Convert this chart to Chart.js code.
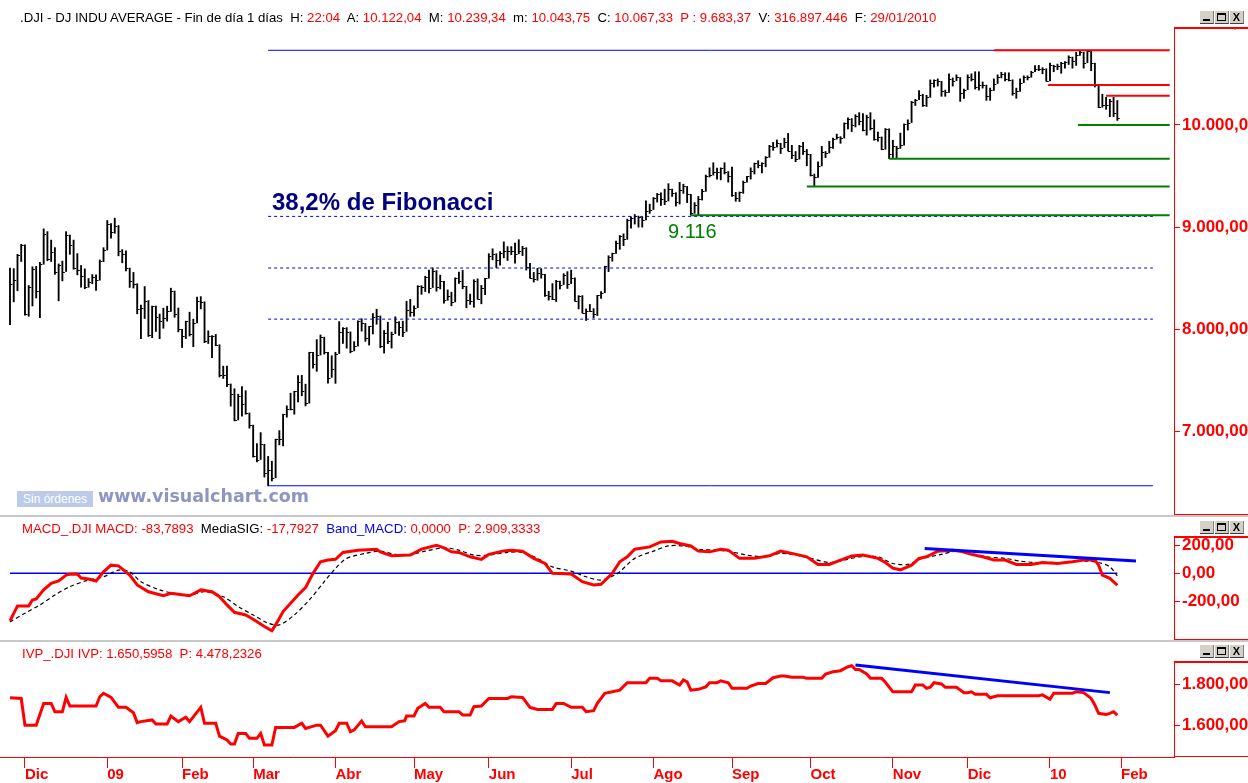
<!DOCTYPE html>
<html lang="es">
<head>
<meta charset="UTF-8">
<title>.DJI - Fibonacci</title>
<script src="https://cdn.jsdelivr.net/npm/chart.js"></script>
<style>
  body { margin: 0; background: #fff; }
  #wrap { position: relative; width: 1248px; height: 783px; overflow: hidden; font-family: Arial, "Liberation Sans", sans-serif; }
  canvas { position: absolute; left: 0; }
  .hdr { position: absolute; left: 20px; font-size: 13.2px; line-height: 15px; white-space: pre; color: #000; }
  .r { color: #ff0000; }
  .b { color: #0000ff; }
  .sep { position: absolute; left: 0; width: 1248px; height: 2px; background: #c8c8c8; }
  .btns { position: absolute; left: 1200px; display: flex; gap: 1px; }
  .bt { width: 14px; height: 13px; background: #d4d0c8; border-bottom: 1px solid #404040; border-right: 1px solid #808080; box-sizing: border-box; position: relative; font: bold 11px Arial; text-align: center; line-height: 12px; color: #000; }
  .mn { position: absolute; left: 3px; bottom: 2px; width: 7px; height: 2px; background: #000; }
  .mx { position: absolute; left: 2px; top: 2px; width: 9px; height: 8px; border: 1px solid #000; border-top-width: 2px; box-sizing: border-box; }
  .txt { position: absolute; white-space: pre; }
</style>
</head>
<body>
<div id="wrap">
  <canvas id="priceChart" style="top:0px"></canvas>
  <canvas id="macdChart" style="top:517px"></canvas>
  <canvas id="ivpChart" style="top:642px"></canvas>

  <div class="hdr" style="top:10px">.DJI - DJ INDU AVERAGE - Fin de día 1 días  H: <span class="r">22:04</span>  A: <span class="r">10.122,04</span>  M: <span class="r">10.239,34</span>  m: <span class="r">10.043,75</span>  C: <span class="r">10.067,33</span>  <span class="r">P : 9.683,37</span>  V: <span class="r">316.897.446</span>  F: <span class="r">29/01/2010</span></div>
  <div class="hdr" style="top:521px; left:22px"><span class="r">MACD_.DJI MACD: -83,7893</span>  MediaSIG: <span class="r">-17,7927</span>  <span class="b">Band_MACD:</span> <span class="r">0,0000</span>  <span class="r">P: 2.909,3333</span></div>
  <div class="hdr" style="top:646px; left:22px"><span class="r">IVP_.DJI IVP: 1.650,5958  P: 4.478,2326</span></div>

  <div class="btns" style="top:11px"><span class="bt"><i class="mn"></i></span><span class="bt"><i class="mx"></i></span><span class="bt">X</span></div>
  <div class="btns" style="top:521px"><span class="bt"><i class="mn"></i></span><span class="bt"><i class="mx"></i></span><span class="bt">X</span></div>
  <div class="btns" style="top:645px"><span class="bt"><i class="mn"></i></span><span class="bt"><i class="mx"></i></span><span class="bt">X</span></div>

  <div class="sep" style="top:515px"></div>
  <div class="sep" style="top:640px"></div>

  <div class="txt" style="left:272px; top:188px; font: bold 24px Arial; color:#000080">38,2% de Fibonacci</div>
  <div class="txt" style="left:668px; top:220px; font: 20px Arial; color:#008000">9.116</div>
  <div class="txt" style="left:17px; top:491px; width:76px; height:16px; background:#bccbea; color:#fff; font: 12px Arial; line-height:16px; text-align:center">Sin órdenes</div>
  <div class="txt" style="left:98px; top:486px; font: bold 17.5px 'DejaVu Sans', Verdana, sans-serif; color:#8e95c0">www.visualchart.com</div>
</div>

<script>
// ---- price data: DJ INDU AVERAGE daily bars, 24/11/2008 .. 29/01/2010 (index = trading day)
const highs = [
  8599,8594,8734,8832,
  8828,8429,8612,8617,8656,8983,8956,8873,8800,8640,8668,8956,8923,8873,8741,8625,8592,8497,8536,8534,8679,8799,
  9065,9034,9088,9016,8780,8767,8600,8557,8447,8237,8419,8282,8228,8228,8150,8207,8227,8403,8375,8209,
  8001,8080,8168,8100,8315,8320,8270,7986,7939,7950,7850,7640,7640,7466,7419,7366,7440,7400,7182,
  7063,6882,6990,6876,6757,6710,6926,7009,7170,7252,7376,7395,7549,7550,7464,7776,7776,7900,7945,7924,7776,7742,
  7776,8076,8017,8017,7975,7880,8084,8104,8058,8030,8155,8197,8131,7989,8070,7973,8123,8076,8080,8275,8293,
  8230,8427,8427,8520,8580,8600,8575,8530,8469,8386,8363,8504,8560,8578,8422,8345,8486,8494,8430,8500,
  8740,8788,8740,8761,8856,8810,8810,8843,8877,8812,8799,8645,8557,8597,8594,8539,8372,8448,8480,8472,8545,8565,
  8580,8504,8330,8330,8200,8244,8203,8333,8370,8617,8720,8746,8863,8918,8934,9079,9100,9123,9108,9097,9258,9225,
  9290,9330,9336,9372,9425,9372,9337,9438,9420,9398,9321,9240,9300,9370,9510,9580,9630,9577,9580,9630,9544,
  9588,9340,9344,9451,9497,9580,9627,9650,9630,9690,9800,9829,9853,9820,9870,9917,9800,9740,9800,9830,9760,
  9712,9520,9640,9790,9740,9840,9871,9910,9885,10020,10070,10062,10100,10120,10110,10095,10120,10050,9930,9882,9965,9962,
  9850,9790,9920,10010,10050,10230,10250,10335,10300,10290,10440,10440,10450,10426,10340,10500,10460,10490,10464,10350,
  10490,10500,10520,10520,10420,10390,10360,10450,10490,10515,10510,10510,10441,10360,10450,10480,10480,10525,10580,10583,10560,10550,
  10604,10584,10595,10612,10619,10676,10664,10709,10723,10711,10730,10726,10604,10390,10300,10270,10250,10270,10239
];
const lows = [
  8046,8269,8377,8664,
  8140,8128,8229,8307,8114,8637,8671,8664,8538,8279,8474,8566,8734,8588,8533,8412,8397,8412,8446,8380,8481,8662,
  8776,8893,8940,8719,8651,8572,8410,8404,8152,7909,8106,7930,7919,7980,7909,8011,8080,8175,8118,7975,
  7822,7910,7935,7830,8062,8200,7870,7862,7724,7840,7534,7520,7440,7249,7105,7114,7150,7170,7033,
  6750,6704,6727,6555,6470,6517,6548,6870,6860,7141,7212,7170,7290,7350,7251,7278,7620,7590,7749,7758,7473,7530,
  7472,7763,7863,7816,7770,7789,7837,7983,7883,7846,7955,8050,7820,7768,7860,7817,7957,7940,7929,7980,8127,
  8128,8212,8343,8370,8356,8409,8373,8395,8256,8284,8230,8268,8449,8397,8211,8244,8216,8295,8250,8340,
  8500,8680,8604,8627,8700,8674,8730,8647,8739,8722,8580,8500,8463,8480,8500,8322,8286,8290,8272,8395,8438,8400,
  8447,8276,8200,8160,8087,8175,8112,8135,8303,8359,8565,8667,8743,8783,8819,8880,8991,9030,9000,9000,9070,9134,
  9172,9245,9212,9220,9256,9300,9206,9226,9330,9240,9116,9135,9117,9265,9350,9490,9509,9470,9462,9520,9440,
  9300,9253,9250,9330,9441,9470,9520,9580,9530,9590,9683,9752,9783,9720,9778,9745,9670,9640,9665,9710,9600,
  9500,9400,9487,9599,9680,9725,9770,9860,9820,9871,9960,9935,9980,10000,9940,9900,9950,9850,9840,9757,9762,9670,
  9680,9680,9770,9802,9950,10023,10190,10247,10180,10180,10270,10370,10380,10280,10280,10318,10380,10433,10230,10260,
  10345,10430,10350,10340,10360,10240,10240,10337,10405,10460,10430,10430,10290,10260,10328,10414,10440,10466,10520,10530,10500,10428,
  10430,10520,10540,10505,10554,10591,10555,10582,10680,10555,10608,10530,10371,10169,10173,10153,10080,10080,10044
];
const closes = [
  8443,8479,8727,8829,
  8149,8419,8591,8376,8635,8934,8691,8761,8565,8629,8564,8924,8824,8604,8579,8519,8419,8468,8515,8483,8668,8776,
  9034,8952,9015,8769,8742,8599,8474,8448,8200,8212,8281,7949,8228,8123,8077,8116,8175,8375,8149,8001,
  7936,8078,7957,8063,8280,8270,7888,7939,7932,7850,7552,7555,7466,7366,7115,7351,7270,7182,7063,
  6763,6726,6876,6594,6627,6547,6926,6930,7170,7224,7217,7395,7486,7400,7278,7776,7660,7749,7924,7776,7522,7609,
  7761,7978,8017,7975,7789,7837,8083,8058,7920,8029,8125,8131,7841,7969,7886,7957,8076,8025,7975,8185,8168,
  8212,8427,8410,8512,8409,8575,8419,8469,8284,8331,8268,8504,8474,8422,8292,8277,8473,8300,8403,8500,
  8721,8740,8675,8750,8764,8764,8763,8739,8770,8799,8612,8504,8497,8555,8539,8339,8323,8299,8472,8438,8529,8447,
  8504,8280,8324,8163,8178,8183,8146,8332,8359,8616,8711,8743,8848,8916,8881,9069,9093,9108,9097,9070,9154,9172,
  9286,9320,9280,9256,9370,9337,9241,9362,9398,9321,9135,9217,9279,9350,9505,9509,9539,9543,9580,9544,9496,
  9310,9281,9344,9441,9497,9547,9627,9605,9626,9683,9791,9783,9820,9778,9829,9748,9707,9665,9789,9742,9712,
  9509,9487,9599,9731,9725,9786,9864,9885,9871,10015,10062,9995,10092,10041,9949,10081,9972,9867,9882,9762,9962,9712,
  9789,9771,9802,10005,10023,10227,10247,10291,10197,10270,10406,10437,10426,10332,10318,10450,10433,10464,10310,10345,
  10471,10453,10366,10388,10390,10286,10337,10405,10471,10501,10452,10441,10308,10328,10414,10464,10466,10520,10547,10545,10548,10428,
  10584,10572,10574,10607,10619,10664,10628,10681,10711,10610,10726,10604,10390,10173,10196,10194,10236,10120,10067
];

// month labels on the time axis (index of first session of each month)
const monthTicks  = [4, 26, 46, 65, 87, 108, 128, 150, 172, 193, 214, 236, 256, 278, 297];
const monthLabels = ['Dic','09','Feb','Mar','Abr','May','Jun','Jul','Ago','Sep','Oct','Nov','Dic','10','Feb'];

// drawn levels on the price panel
const rangeLevels   = [10730, 6470];          // top / bottom of the swing (blue)
const fibLevels     = [9105, 8600, 8100];     // 38,2% 50% 61,8% (blue dashed)
const fibStart = 69, fibEnd = 305.5;
const resistLevels  = [10730, 10390, 10285];  // red
const resistStart   = [263, 277.5, 293];
const supportLevels = [10000, 9668, 9398, 9116]; // green
const supportStart  = [285.5, 235, 213, 182];
const levelEnd = 310;

// MACD panel
const macdX = [0,2,5,6,7,9,11,13,15,16,18,19,21,23,25,27,29,32,34,37,41,43,45,48,51,54,56,58,60,63,65,68,70,71,73,77,79,81,83,85,87,89,93,98,99,102,107,110,114,116,118,120,123,126,128,132,134,137,140,143,145,150,153,156,158,161,163,165,167,171,174,177,179,182,184,187,190,192,195,199,203,206,209,213,216,219,222,225,228,232,234,236,238,241,243,245,248,252,254,257,260,263,266,269,273,276,280,284,287,290,291,292,294,296];
const macdY = [-336,-230,-230,-188,-181,-117,-70,-54,-12,-7,-5,-33,-40,-54,11,58,53,-12,-82,-130,-158,-141,-148,-158,-117,-130,-165,-223,-275,-294,-324,-376,-406,-364,-270,-153,-101,0,82,94,99,148,164,171,152,124,129,171,199,180,152,148,117,99,134,159,164,157,106,70,0,-5,-59,-82,-77,0,82,117,171,187,222,227,211,194,157,152,171,164,106,106,124,157,141,117,63,63,94,122,129,106,77,37,25,58,106,117,157,164,157,134,117,94,94,63,63,77,70,82,94,94,58,-12,-35,-84];
const sigX = [0,4,8,12,16,21,25,29,32,35,40,44,48,52,57,61,65,69,72,76,80,84,87,90,95,99,103,107,111,116,120,124,128,133,137,141,145,150,154,158,162,163,167,172,176,180,184,189,193,197,202,206,210,214,219,223,227,232,236,240,244,249,253,257,261,266,270,274,279,283,287,291,294,296];
const sigY = [-343,-282,-223,-153,-94,-47,-24,23,11,-59,-117,-141,-153,-130,-165,-235,-294,-352,-364,-294,-188,-59,35,106,141,157,134,134,157,180,164,129,129,148,148,106,46,16,-24,-47,-7,11,106,157,194,194,171,164,152,129,117,141,129,106,77,94,117,117,70,63,106,134,157,141,117,106,87,77,77,77,87,77,46,-18];
const bandX = [0, 296];
const bandY = [0, 0];
const macdTrendX = [244.5, 301];
const macdTrendY = [176, 87];

// IVP panel
const ivpX = [0,3,4,7,9,11,12,14,15,16,23,24,25,27,29,31,33,34,35,38,39,42,43,45,47,48,51,52,55,56,58,59,60,61,63,64,66,67,68,70,71,76,78,79,82,83,85,87,88,90,91,92,94,95,102,104,105.5,106,108,109,111,112,115,116,120,121,123,124,126,128,133,134,137,139,141,145,146,148,150,153,154,156,157,159,161,163,165,170,171,173,174,177,179,180,181,182,184,186,187,189,190,192,193,197,198,200,202,204,206,207,209,212,213,217,218,220,222,224,225,226,227,229,230,233,234,236,241,242,244,245,246,247,249,250,253,255,256,257,258,261,262,263,264,275,276,278,279,284,285,287,289,290,291,293,294,295,296];
const ivpY = [1735,1732,1603,1603,1708,1708,1668,1668,1737,1695,1695,1740,1757,1737,1689,1689,1663,1615,1620,1628,1608,1608,1647,1620,1641,1620,1689,1612,1612,1550,1531,1512,1512,1563,1563,1539,1539,1563,1507,1507,1592,1592,1612,1587,1603,1603,1550,1576,1612,1612,1571,1580,1623,1595,1595,1620,1624,1647,1647,1684,1708,1689,1689,1668,1668,1652,1652,1692,1695,1732,1732,1740,1737,1689,1679,1679,1708,1708,1689,1689,1668,1673,1708,1757,1764,1772,1808,1808,1829,1829,1817,1817,1797,1821,1812,1772,1776,1788,1808,1808,1817,1808,1781,1781,1792,1804,1804,1832,1840,1840,1834,1834,1829,1829,1850,1861,1866,1885,1890,1872,1872,1850,1829,1829,1810,1764,1764,1797,1797,1781,1786,1808,1802,1786,1786,1760,1760,1764,1752,1752,1735,1740,1745,1745,1749,1728,1757,1757,1764,1760,1732,1700,1660,1655,1660,1668,1651];
const ivpTrendX = [226, 294];
const ivpTrendY = [1893, 1760];

// ---- helpers
const XMIN = -2.673, XMAX = 311.15;
const AXIS_W = 74;

function fmtNum(v) {
  const neg = v < 0;
  const parts = Math.abs(v).toFixed(2).split('.');
  const ent = parts[0].replace(/\B(?=(\d{3})+(?!\d))/g, '.');
  return (neg ? '-' : '') + ent + ',' + parts[1];
}
function pts(xs, ys) { return xs.map((x, i) => ({x: x, y: ys[i]})); }
function hline(x0, x1, v, color, width, dash) {
  return { type: 'line', data: [{x: x0, y: v}, {x: x1, y: v}], borderColor: color, borderWidth: width,
           borderDash: dash || [], pointRadius: 0, tension: 0 };
}

// red box around the value axis + white mask above it
const axisBox = {
  id: 'axisBox',
  afterDraw(chart) {
    const {ctx, chartArea: a} = chart;
    ctx.save();
    ctx.fillStyle = '#fff';
    ctx.fillRect(a.right + 1, 0, 200, a.top - 1);
    ctx.strokeStyle = '#ff0000';
    ctx.lineWidth = 2;
    ctx.beginPath();
    ctx.moveTo(a.right, a.top); ctx.lineTo(chart.width, a.top);
    ctx.stroke();
    ctx.lineWidth = 1;
    ctx.beginPath();
    ctx.moveTo(a.right, a.bottom - 0.5); ctx.lineTo(chart.width, a.bottom - 0.5);
    ctx.stroke();
    ctx.restore();
  }
};

// close tick on the right side of each bar
const closeTicks = {
  id: 'closeTicks',
  afterDatasetsDraw(chart) {
    const {ctx, scales: {x, y}} = chart;
    ctx.save();
    ctx.strokeStyle = '#000';
    ctx.lineWidth = 1;
    ctx.beginPath();
    closes.forEach((c, i) => {
      const px = x.getPixelForValue(i);
      const py = Math.round(y.getPixelForValue(c)) + 0.5;
      ctx.moveTo(px, py); ctx.lineTo(px + 2.5, py);
    });
    ctx.stroke();
    ctx.restore();
  }
};

function valueAxis(min, max, ticks) {
  return {
    position: 'right', min: min, max: max,
    afterFit(s) { s.width = AXIS_W; s.paddingTop = 0; s.paddingBottom = 0; },
    afterBuildTicks(s) { s.ticks = ticks.map(v => ({value: v})); },
    ticks: { color: '#ff0000', font: {family: 'Arial', size: 17, weight: 'bold'}, padding: 2,
             autoSkip: false, callback: v => fmtNum(v) },
    grid: { drawOnChartArea: false, color: '#ff0000', tickLength: 6 },
    border: { color: '#ff0000', width: 1 }
  };
}
function hiddenX() {
  return { type: 'linear', min: XMIN, max: XMAX, offset: false, display: false };
}
const common = {
  responsive: false, animation: false, maintainAspectRatio: false,
  plugins: { legend: {display: false}, tooltip: {enabled: false} }
};

function makeCanvas(id, h) {
  const c = document.getElementById(id);
  c.width = 1248; c.height = h;
  c.style.width = '1248px'; c.style.height = h + 'px';
  return c;
}

// ---- price panel (first datasets are drawn on top)
const priceDatasets = [];
resistLevels.forEach((v, i) => priceDatasets.push(hline(resistStart[i], levelEnd, v, '#ff0000', 2)));
supportLevels.forEach((v, i) => priceDatasets.push(hline(supportStart[i], levelEnd, v, '#008000', 2)));
rangeLevels.forEach(v => priceDatasets.push(hline(fibStart, fibEnd, v, '#0000ff', 1)));
fibLevels.forEach(v => priceDatasets.push(hline(fibStart, fibEnd, v, '#0000ff', 1, [3, 3])));
priceDatasets.push({
  type: 'bar',
  data: highs.map((h, i) => ({x: i, y: [lows[i], h]})),
  backgroundColor: '#000', borderWidth: 0, barThickness: 1.2
});

new Chart(makeCanvas('priceChart', 515), {
  type: 'bar',
  data: { datasets: priceDatasets },
  options: Object.assign({}, common, {
    layout: { padding: {top: 28, bottom: 0, left: 0, right: 0} },
    scales: { x: hiddenX(), y: valueAxis(6184, 10948, [7000, 8000, 9000, 10000, 11000]) }
  }),
  plugins: [closeTicks, axisBox]
});

// ---- MACD panel
new Chart(makeCanvas('macdChart', 123), {
  type: 'line',
  data: { datasets: [
    { data: pts(macdTrendX, macdTrendY), borderColor: '#0000ff', borderWidth: 3, pointRadius: 0 },
    { data: pts(macdX, macdY), borderColor: '#ff0000', borderWidth: 3, pointRadius: 0, tension: 0 },
    { data: pts(sigX, sigY), borderColor: '#000', borderWidth: 1.2, borderDash: [4, 3], pointRadius: 0, tension: 0.3 },
    { data: pts(bandX, bandY), borderColor: '#0000ff', borderWidth: 1.5, pointRadius: 0 }
  ]},
  options: Object.assign({}, common, {
    layout: { padding: {top: 20, bottom: 0, left: 0, right: 0} },
    scales: { x: hiddenX(), y: valueAxis(-471, 257, [200, 0, -200]) }
  }),
  plugins: [axisBox]
});

// ---- IVP panel (with the time axis)
new Chart(makeCanvas('ivpChart', 141), {
  type: 'line',
  data: { datasets: [
    { data: pts(ivpTrendX, ivpTrendY), borderColor: '#0000ff', borderWidth: 3, pointRadius: 0 },
    { data: pts(ivpX, ivpY), borderColor: '#ff0000', borderWidth: 3, pointRadius: 0, tension: 0 }
  ]},
  options: Object.assign({}, common, {
    layout: { padding: {top: 20, bottom: 0, left: 0, right: 0} },
    scales: {
      x: {
        type: 'linear', min: XMIN, max: XMAX, offset: false,
        afterBuildTicks(s) { s.ticks = monthTicks.map(v => ({value: v})); },
        afterFit(s) { s.height = 26; s.paddingLeft = 0; s.paddingRight = 0; },
        ticks: { color: '#ff0000', font: {family: 'Arial', size: 15, weight: 'bold'}, align: 'start',
                 padding: -2, autoSkip: false, maxRotation: 0,
                 callback: (v, i) => monthLabels[i] },
        grid: { drawOnChartArea: false, color: '#ff0000', tickLength: 11 },
        border: { color: '#ff0000', width: 1 }
      },
      y: valueAxis(1449, 1908, [1800, 1600])
    }
  }),
  plugins: [axisBox]
});
</script>
</body>
</html>
